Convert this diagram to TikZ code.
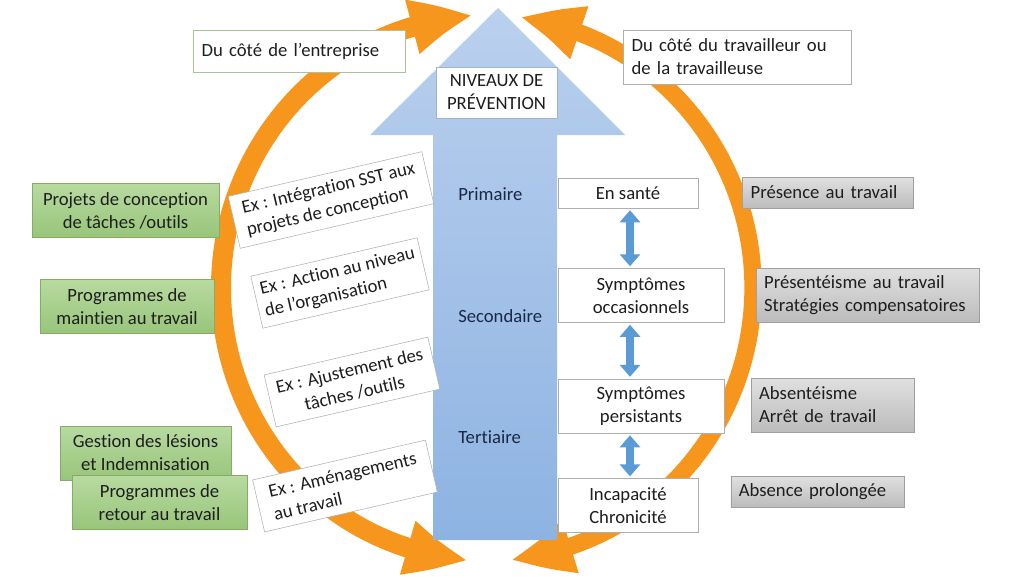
\documentclass[tikz,border=0pt]{standalone}
\usepackage{fontspec}
\setmainfont{Carlito}[Ligatures=NoCommon]
\usetikzlibrary{arrows.meta,bending,positioning}

\definecolor{orng}{RGB}{247,150,28}
\definecolor{bluetop}{RGB}{186,208,238}
\definecolor{bluebot}{RGB}{141,179,226}
\definecolor{dblblue}{RGB}{91,155,213}
\definecolor{grntop}{RGB}{184,218,160}
\definecolor{grnbot}{RGB}{152,197,122}
\definecolor{grnline}{RGB}{132,172,104}
\definecolor{grytop}{RGB}{224,224,224}
\definecolor{grybot}{RGB}{188,188,188}
\definecolor{gryline}{RGB}{160,160,160}
\definecolor{boxline}{RGB}{175,175,175}
\definecolor{nivline}{RGB}{160,180,205}
\definecolor{entline}{RGB}{170,196,150}
\definecolor{txt}{RGB}{30,30,30}
\definecolor{navy}{RGB}{25,40,70}

\begin{document}
\begin{tikzpicture}[
x = 0.75pt, y = -0.75pt, % one unit = one pixel of the sketch
font = \fontsize{14}{17.2}\selectfont,
text = txt,
cycarrow/.style = {draw = orng, {Triangle[length=47pt,width=38pt,bend]}-{Triangle[length=47pt,width=38pt,bend]}},
dbl/.style = {draw = dblblue, line width = 6.5pt, {Triangle[length=9pt,width=15pt]}-{Triangle[length=9pt,width=15pt]}, shorten <= 1.5pt, shorten >= 1.5pt},
stbox/.style = {draw = boxline, fill = white, align = center, inner sep = 2pt},
sidebox/.style = {draw = boxline, fill = white, align = left, inner xsep = 6.5pt, inner ysep = 0pt},
grnbox/.style = {draw = grnline, top color = grntop, bottom color = grnbot, align = center, inner sep = 2pt, minimum height = 40.5pt},
grybox/.style = {draw = gryline, top color = grytop, bottom color = grybot, align = left, inner xsep = 6pt, inner ysep = 0pt},
exbox/.style = {draw = boxline, fill = white, align = left, rotate = 13, inner xsep = 3pt, minimum height = 40pt},
lvltxt/.style = {text = navy, anchor = west, inner sep = 0pt}
]

\fill[white] (0,0) rectangle (1024,576);
\useasboundingbox (0,0) rectangle (1024,576);

% orange cycle
\draw[cycarrow, line width = 15pt] (487,288) ++(-93:266 and 272)
  arc[start angle = -93, end angle = -266, x radius = 266, y radius = 272];
\draw[cycarrow, line width = 13pt] (487,288) ++(-83:266 and 272)
  arc[start angle = -83, end angle = 85, x radius = 266, y radius = 272];

% big arrow
\shade[top color = bluetop, bottom color = bluebot]
  (433,540) -- (433,135) -- (370,135) -- (498,8) -- (625,135)
  -- (557,135) -- (557,540) -- cycle;

\node[stbox, draw = nivline, minimum width = 91pt, minimum height = 38pt] (niv) at (496.5,92.5) {NIVEAUX DE\\PRÉVENTION};

% levels
\node[lvltxt] (prim) at (458,194) {Primaire};
\node[lvltxt] (sec) at (458,316) {Secondaire};
\node[lvltxt] (ter) at (458,437) {Tertiaire};

% states
\node[stbox, minimum width = 105pt, minimum height = 22.5pt] (sante) at (628,193) {En santé};
\node[stbox, minimum width = 124.5pt, minimum height = 40.5pt, below = 45pt of sante.south west, anchor = north west] (occas) {Symptômes\\occasionnels};
\node[stbox, minimum width = 124.5pt, minimum height = 40.5pt, below = 42pt of occas.south west, anchor = north west] (persist) {Symptômes\\persistants};
\node[stbox, minimum width = 105pt, minimum height = 40.5pt, below = 33.75pt of persist.south west, anchor = north west] (incap) {Incapacité\\Chronicité};

\coordinate (axis) at (630,0);
\draw[dbl] (sante.south -| axis) -- (occas.north -| axis);
\draw[dbl] (occas.south -| axis) -- (persist.north -| axis);
\draw[dbl] (persist.south -| axis) -- (incap.north -| axis);

% worker side
\node[grybox, text width = 116pt, minimum height = 23.25pt] (presence) at (828,192.5) {Présence au travail};
\node[grybox, text width = 155pt, minimum height = 40.5pt] (presenteisme) at (867.5,295) {Présentéisme au travail\\Stratégies compensatoires};
\node[grybox, text width = 110pt, minimum height = 40.5pt] (absenteisme) at (832.5,405) {Absentéisme\\Arrêt de travail};
\node[grybox, text width = 118pt, minimum height = 23.25pt] (absprol) at (817.5,491.5) {Absence prolongée};

% company side
\node[grnbox, minimum width = 140pt] (conception) at (125.5,210.5) {Projets de conception\\de tâches /outils};
\node[grnbox, minimum width = 130.5pt] (maintien) at (127,306.5) {Programmes de\\maintien au travail};
\node[grnbox, minimum width = 128pt] (gestion) at (145.5,453) {Gestion des lésions\\et Indemnisation};
\node[grnbox, minimum width = 131pt] (retour) at (159.5,502.5) {Programmes de\\retour au travail};

% examples
\node[exbox, minimum width = 149pt] (ex1) at (331,200) {Ex : Intégration SST aux\\projets de conception};
\node[exbox, minimum width = 128pt] (ex2) at (340,283) {Ex : Action au niveau\\de l’organisation};
\node[exbox, minimum width = 126pt, align = center] (ex3) at (352,382) {Ex : Ajustement des\\tâches /outils};
\node[exbox, minimum width = 133pt] (ex4) at (345,486) {Ex : Aménagements\\au travail};

% headings
\node[sidebox, draw = entline, text width = 146pt, minimum height = 31.5pt] (entreprise) at (299,51) {Du côté de l’entreprise};
\node[sidebox, text width = 158pt, minimum height = 40.5pt] (travailleur) at (737,57) {Du côté du travailleur ou\\de la travailleuse};

\end{tikzpicture}
\end{document}
